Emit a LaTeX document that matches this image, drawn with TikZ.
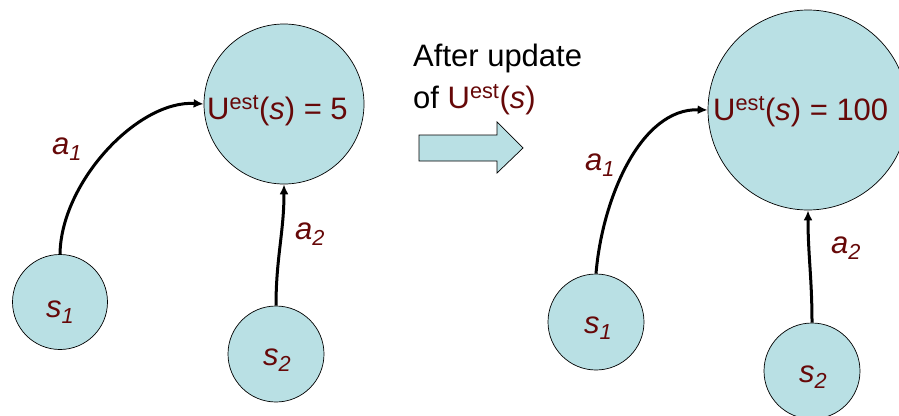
\documentclass[tikz,border=0pt]{standalone}
\usepackage{fontspec}
\setmainfont{Liberation Sans}
\usetikzlibrary{arrows.meta}
\definecolor{cfill}{RGB}{185,224,228}
\definecolor{maroon}{RGB}{102,8,8}
\tikzset{
  x=1pt, y=-1pt,
  state/.style={circle, draw=black, line width=0.7pt, fill=cfill, inner sep=0pt},
  act/.style={line width=3pt, -{Latex[length=10pt,width=9pt]}},
  lbl/.style={anchor=base west, inner sep=0pt, text=maroon, font=\fontsize{31}{36}\selectfont},
  big/.style={anchor=base west, inner sep=0pt, text=maroon, font=\fontsize{31}{36}\selectfont},
  note/.style={anchor=base west, inner sep=0pt, font=\fontsize{31}{36}\selectfont},
}
\newcommand{\sub}[2]{\textit{#1}\textsubscript{\textit{#2}}}
\begin{document}
\begin{tikzpicture}
\useasboundingbox (0,0) rectangle (899,415);
\begin{scope}
\clip (0,0) rectangle (899,415);
% left
\node[state, minimum size=160pt] (L) at (284,104) {};
\node[state, minimum size=95pt] (Ls1) at (60,302) {};
\node[state, minimum size=96pt] (Ls2) at (276,354) {};
\draw[act] (Ls1.north) .. controls (61,182) and (138,100) .. (L.west);
\draw[act] (Ls2.north) to[out=90,in=-90] (L.south);
\node[big] (Llab) at (207,119) {U\textsuperscript{est}(\textit{s}) = 5};
\node[lbl] (La1) at (52,154) {\sub{a}{1}};
\node[lbl] (La2) at (295,239) {\sub{a}{2}};
\node[lbl] (Ls1lab) at (46,317) {\sub{s}{1}};
\node[lbl] (Ls2lab) at (263,365) {\sub{s}{2}};
% middle
\node[note] (t1) at (413,66) {After update};
\node[note] (t2) at (413,108) {of \textcolor{maroon}{U\textsuperscript{est}(\textit{s})}};
\draw[line width=0.7pt, fill=cfill] (419,135) -- (497,135) -- (497,122) -- (523,148) -- (497,173) -- (497,161) -- (419,161) -- cycle;
% right
\node[state, minimum size=200pt] (R) at (808,110) {};
\node[state, minimum size=96pt] (Rs1) at (596,322) {};
\node[state, minimum size=96pt] (Rs2) at (812,371) {};
\draw[act] (Rs1.north) .. controls (602,200) and (640,108) .. (R.west);
\draw[act] (Rs2.north) to[out=90,in=-90] (R.south);
\node[big] (Rlab) at (713,120) {U\textsuperscript{est}(\textit{s}) = 100};
\node[lbl] (Ra1) at (585,170) {\sub{a}{1}};
\node[lbl] (Ra2) at (831,253) {\sub{a}{2}};
\node[lbl] (Rs1lab) at (584,333) {\sub{s}{1}};
\node[lbl] (Rs2lab) at (799,382) {\sub{s}{2}};
\end{scope}
\end{tikzpicture}
\end{document}
